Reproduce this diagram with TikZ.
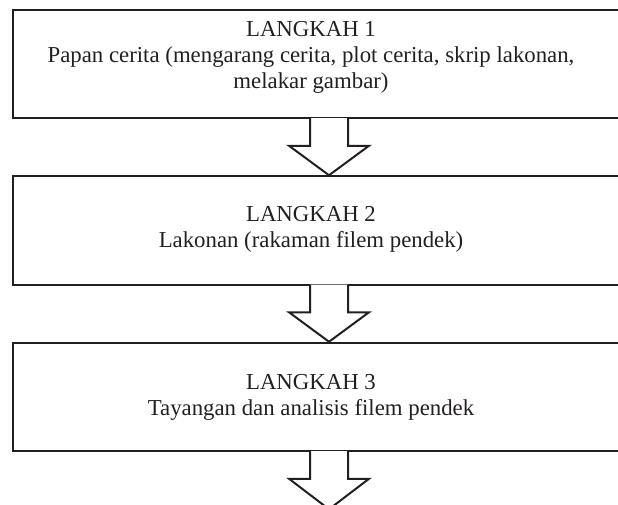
\documentclass[tikz,border=0pt]{standalone}
\usepackage{fontspec}
\setmainfont{Liberation Serif}
\usetikzlibrary{calc}
\definecolor{inkline}{RGB}{35,31,32}
\tikzset{
  stepbox/.style={draw=inkline, line width=2pt, minimum width=632pt, minimum height=108.5pt},
  steptext/.style={align=center, font=\fontsize{22.8}{26}\selectfont, text=inkline},
  blockarrow/.style={draw=inkline, fill=white, line width=2pt, line join=miter}
}
\begin{document}
\begin{tikzpicture}[x=1pt, y=1pt]
  \useasboundingbox (0,0) rectangle (618,-504);

  \node[stepbox] (s1) at (329,-64) {};
  \node[stepbox] (s2) at (329,-230.5) {};
  \node[stepbox] (s3) at (329,-397) {};
  \node[inner sep=0pt, outer sep=0pt] (end) at ($(s3.south)+(0,-57.5)$) {};

  \node[steptext] (t1) at (311,-57) {LANGKAH 1\\Papan cerita (mengarang cerita, plot cerita, skrip lakonan,\\melakar gambar)};
  \node[steptext] (t2) at (311,-229.5) {LANGKAH 2\\Lakonan (rakaman filem pendek)};
  \node[steptext] (t3) at (311,-397) {LANGKAH 3\\Tayangan dan analisis filem pendek};

  % block arrows between the steps
  \foreach \a/\b in {s1/s2, s2/s3, s3/end}
    \filldraw[blockarrow] ($(\a.south)+(-19,1.2)$) -- ++(0,-27.7) -- ++(-21,0)
      -- (\b.north) -- ($(\a.south)+(40,-26.5)$) -- ++(-21,0) -- ($(\a.south)+(19,1.2)$);
\end{tikzpicture}
\end{document}
